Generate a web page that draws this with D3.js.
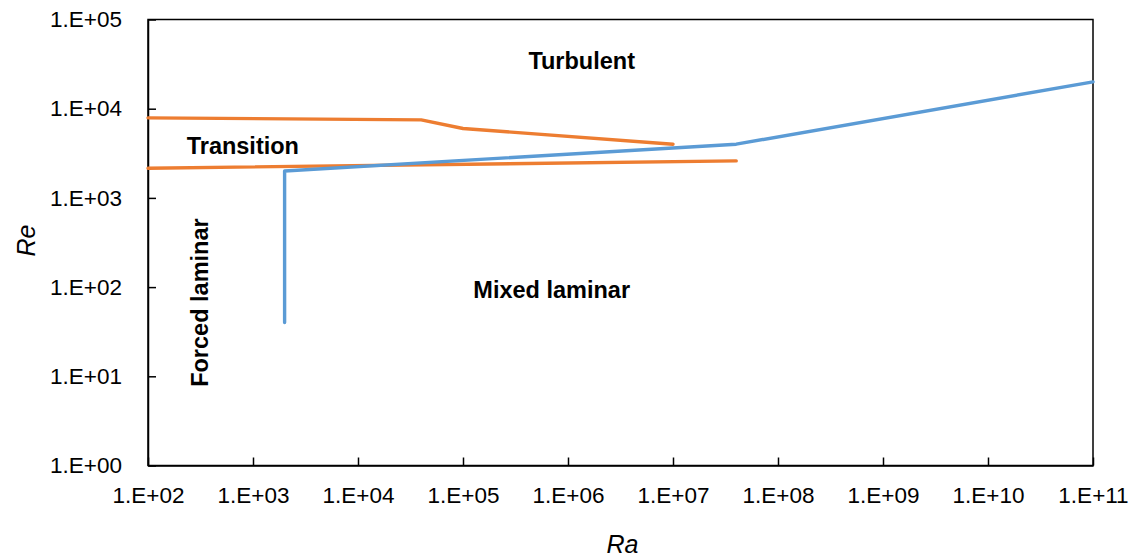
<!DOCTYPE html>
<html>
<head>
<meta charset="utf-8">
<script src="https://cdn.jsdelivr.net/npm/d3@7"></script>
<style>
  html, body { margin: 0; padding: 0; background: #fff; }
  svg { display: block; font-family: "Liberation Sans", Arial, sans-serif; }
</style>
</head>
<body>
<svg id="chart" width="1138" height="557"></svg>
<script>
// Flow regime map: Reynolds number vs Rayleigh number (log-log)
const raTicks = [1e2, 1e3, 1e4, 1e5, 1e6, 1e7, 1e8, 1e9, 1e10, 1e11];
const reTicks = [1e0, 1e1, 1e2, 1e3, 1e4, 1e5];

// Upper boundary of transition region
const transUpperRa = [1e2, 4e4, 1e5, 1e7];
const transUpperRe = [7900, 7500, 6000, 4000];

// Lower boundary of transition region
const transLowerRa = [1e2, 4e7];
const transLowerRe = [2150, 2600];

// Forced / mixed laminar boundary and mixed-to-turbulent boundary
const mixedRa = [2000, 2000, 4e7, 1e11];
const mixedRe = [40, 2000, 4000, 20000];

// Region names, placed at the centre of each label
const regionNames = ["Turbulent", "Transition", "Mixed laminar", "Forced laminar"];
const regionRa = [1.35e6, 800, 7e5, 310];
const regionRe = [35000, 3900, 94, 67];

const svg = d3.select("#chart");
const plotLeft = 148, plotRight = 1093, plotTop = 19.5, plotBottom = 465.5;

const x = d3.scaleLog().domain([1e2, 1e11]).range([plotLeft, plotRight]);
const y = d3.scaleLog().domain([1e0, 1e5]).range([plotBottom, plotTop]);

const fmt = d => "1.E+" + String(Math.round(Math.log10(d))).padStart(2, "0");

// frame
svg.append("rect")
  .attr("x", plotLeft).attr("y", plotTop)
  .attr("width", plotRight - plotLeft).attr("height", plotBottom - plotTop)
  .attr("fill", "none").attr("stroke", "#000").attr("stroke-width", 1.5);

// x axis
const xAxis = svg.append("g")
  .attr("transform", `translate(0,${plotBottom})`)
  .call(d3.axisBottom(x).tickValues(raTicks).tickFormat(fmt).tickSizeInner(-8).tickSizeOuter(0).tickPadding(22));
xAxis.select(".domain").attr("stroke-width", 1.5);
xAxis.selectAll(".tick line").attr("stroke-width", 1.5);
xAxis.selectAll(".tick text").attr("font-size", 22.5).attr("font-family", "Liberation Sans, Arial, sans-serif").attr("fill", "#000");

// y axis
const yAxis = svg.append("g")
  .attr("transform", `translate(${plotLeft},0)`)
  .call(d3.axisLeft(y).tickValues(reTicks).tickFormat(fmt).tickSizeInner(-8).tickSizeOuter(0).tickPadding(26));
yAxis.select(".domain").attr("stroke-width", 1.5);
yAxis.selectAll(".tick line").attr("stroke-width", 1.5);
yAxis.selectAll(".tick text").attr("font-size", 22.5).attr("font-family", "Liberation Sans, Arial, sans-serif").attr("fill", "#000");

// boundary lines
const line = d3.line().x(d => x(d[0])).y(d => y(d[1]));
const series = [
  { ra: transUpperRa, re: transUpperRe, color: "#ED7D31" },
  { ra: transLowerRa, re: transLowerRe, color: "#ED7D31" },
  { ra: mixedRa, re: mixedRe, color: "#5B9BD5" }
];
series.forEach(s => {
  svg.append("path")
    .datum(s.ra.map((r, i) => [r, s.re[i]]))
    .attr("d", line)
    .attr("fill", "none")
    .attr("stroke", s.color)
    .attr("stroke-width", 3.4)
    .attr("stroke-linejoin", "round")
    .attr("stroke-linecap", "round");
});

// region labels
regionNames.forEach((name, i) => {
  const px = x(regionRa[i]), py = y(regionRe[i]);
  const t = svg.append("text")
    .attr("font-size", 23.5)
    .attr("font-weight", "bold")
    .attr("text-anchor", "middle")
    .attr("fill", "#000")
    .text(name);
  if (name === "Forced laminar") {
    t.attr("transform", `translate(${px + 8.5},${py}) rotate(-90)`);
  } else {
    t.attr("x", px).attr("y", py + 8.5);
  }
});

// axis titles
svg.append("text")
  .attr("x", (plotLeft + plotRight) / 2 + 2).attr("y", 553)
  .attr("text-anchor", "middle")
  .attr("font-size", 25).attr("font-style", "italic")
  .text("Ra");
svg.append("text")
  .attr("transform", `translate(35,${(plotTop + plotBottom) / 2 - 2}) rotate(-90)`)
  .attr("text-anchor", "middle")
  .attr("font-size", 25).attr("font-style", "italic")
  .text("Re");
</script>
</body>
</html>
